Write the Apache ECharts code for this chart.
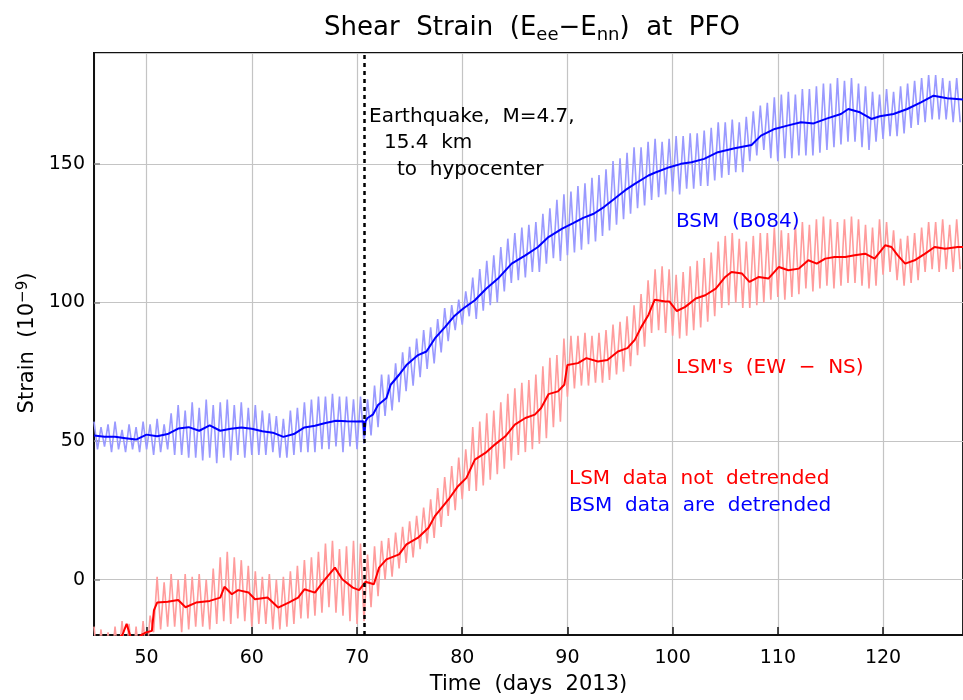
<!DOCTYPE html>
<html>
<head>
<meta charset="utf-8">
<script src="https://cdn.jsdelivr.net/npm/echarts@6/dist/echarts.min.js"></script>
<style>
  html, body { margin: 0; padding: 0; background: #fff; }
  #chart { width: 963px; height: 700px; }
</style>
</head>
<body>
<div id="chart"></div>
<script>
// smoothed curves (day, strain)
const bsmDays = [45, 46, 47, 48, 49, 50, 51, 52, 53, 54, 55, 56, 57, 58, 59, 60, 61, 62, 63, 64, 65, 66, 67, 68, 69, 70,
  70.6, 70.7, 70.8, 71, 71.5, 72, 72.8, 73.2, 74, 74.7, 75.8, 76.6, 77.4, 78.4, 79.2, 80.1, 81.2, 82.3, 83.4, 84.7,
  86, 87.2, 88.2, 89.5, 90.5, 91.5, 92.5, 93.5, 94.5, 95.5, 96.4, 97.7, 98.3, 99.7, 100.8, 101.8, 103, 104.3, 105.9,
  107.5, 108.4, 109.7, 110.9, 112.2, 113.4, 114.7, 116, 116.7, 117.8, 118.9, 119.7, 121, 122.3, 123.6, 124.8, 126.1, 127, 127.6];
const bsmTrend = [52, 51.5, 51.5, 51, 50.5, 52.3, 51.7, 52.5, 54.5, 55, 53.7, 55.6, 53.7, 54.4, 54.9, 54.4, 53.5, 53, 51.5, 52.5, 54.9, 55.5, 56.5, 57.3, 57.1, 57,
  57.1, 52, 57, 58.3, 59.5, 63, 65.5, 70.3, 73.9, 77.4, 81, 82.3, 87, 91.3, 94.9, 97.8, 100.8, 105, 108.6, 114,
  117, 120, 123.6, 126.6, 128.5, 130.5, 132, 134.5, 137.5, 140.5, 142.8, 145.8, 146.8, 148.8, 150, 150.6, 151.8, 154.2, 155.6,
  156.8, 160.2, 162.6, 163.8, 165, 164.6, 166.4, 168, 169.8, 168.6, 166.2, 167.2, 168, 169.8, 172.2, 174.6, 173.7, 173.4, 173.2];

const lsmDays = [45, 46, 47, 47.7, 48.1, 48.5, 49, 49.5, 50, 50.5, 50.7, 51, 52, 53, 53.7, 54.7, 56, 57, 57.4, 58.1, 58.7,
  59.7, 60.3, 61.5, 62.5, 63.5, 64.4, 65, 66, 66.9, 67.9, 68.6, 69.6, 70.2, 70.8, 71.6, 72.1, 72.8, 74, 74.7, 75.8,
  76.8, 77.4, 78.7, 79.6, 80.4, 81.2, 82.2, 83.1, 84.1, 85, 86, 86.9, 87.5, 88.2, 89.1, 89.7, 90, 91, 91.8, 92.9,
  93.8, 94.8, 95.7, 96.4, 97, 97.7, 98.3, 99.3, 99.7, 100.4, 101.2, 102.2, 103.1, 104.1, 105, 105.6, 106.6, 107.3,
  108.2, 109.1, 110.1, 111, 112, 112.9, 113.7, 114.5, 115.4, 116.4, 117.3, 118.3, 119.2, 120.2, 120.8, 121.4, 122.1,
  123, 124, 124.9, 125.9, 127.1, 127.6];
const lsmTrend = [-24, -23, -22, -20, -16, -21, -22, -20, -19, -18.5, -11, -8.3, -8, -7.4, -10, -8.3, -7.7, -6.5, -2.6, -5.3, -3.8,
  -4.7, -7.1, -6.5, -10.1, -8.3, -6.5, -3.5, -4.7, -0.2, 4.3, 0.1, -2.9, -3.8, -0.8, -1.7, 4.3, 7.3, 9.1, 12.7, 15.1,
  18.7, 22.9, 28.9, 33.7, 36.7, 43.3, 45.7, 48.7, 51.7, 55.9, 58.3, 59.5, 61.9, 66.9, 67.9, 70.3, 77.4, 78.1, 79.9, 78.7,
  79.2, 82.3, 83.5, 86.5, 91, 95.5, 101, 100.3, 100.3, 96.9, 98.4, 101.4, 102.6, 105, 109.2, 111, 110.4, 107.4,
  109.2, 108.6, 112.8, 111.6, 112.2, 115.2, 114, 115.8, 116.4, 116.4, 117, 117.6, 115.8, 120.6, 120, 117, 114,
  115.2, 117.6, 120, 119.4, 120, 120];

// raw (tidal) records, one value every third of a day from day 45
const tideStart = 45;
const tideStep = 1 / 3;
const bsmRaw = [
  57, 47, 55, 48, 56, 46,
  57, 47, 54, 46, 56, 47,
  55, 46, 57, 47, 56, 45,
  58, 46, 56, 47, 60, 45,
  63, 45, 61, 44, 64, 44,
  62, 43, 65, 44, 63, 42,
  64, 44, 65, 43, 63, 45,
  64, 44, 62, 45, 63, 45,
  61, 45, 60, 46, 59, 44,
  58, 44, 61, 45, 62, 46,
  64, 46, 65, 46, 66, 47,
  66, 47, 67, 48, 66, 46,
  66, 48, 65, 47, 66, 49,
  65, 52, 70, 55, 74, 59,
  74, 61, 78, 64, 82, 68,
  84, 70, 87, 73, 90, 76,
  91, 78, 94, 82, 98, 86,
  99, 90, 101, 92, 104, 95,
  109, 94, 112, 97, 115, 99,
  117, 100, 120, 104, 123, 107,
  125, 108, 127, 109, 128, 111,
  129, 111, 132, 114, 134, 116,
  137, 115, 139, 117, 140, 118,
  142, 119, 143, 121, 145, 122,
  146, 124, 148, 126, 151, 128,
  152, 130, 154, 132, 156, 134,
  156, 135, 158, 137, 159, 138,
  158, 139, 159, 140, 160, 139,
  160, 141, 161, 141, 161, 142,
  162, 142, 163, 144, 165, 145,
  165, 146, 166, 147, 165, 147,
  167, 151, 169, 153, 171, 155,
  172, 152, 174, 151, 175, 152,
  176, 152, 175, 153, 177, 153,
  177, 153, 178, 154, 179, 155,
  179, 156, 181, 157, 180, 158,
  181, 158, 179, 156, 178, 155,
  176, 158, 175, 159, 177, 160,
  176, 160, 178, 161, 179, 163,
  180, 164, 181, 165, 182, 166,
  182, 166, 181, 166, 180, 165,
  181, 165
];
const lsmRaw = [
  -17, -30, -18, -31, -19, -30,
  -17, -29, -15, -30, -16, -31,
  -17, -30, -15, -29, -13, -19,
  1, -18, -1, -17, 2, -17,
  0, -19, 2, -18, 1, -17,
  2, -17, 0, -18, 4, -16,
  8, -15, 10, -16, 8, -14,
  7, -15, 5, -17, 3, -16,
  1, -16, 2, -18, 0, -18,
  1, -17, 3, -16, 5, -14,
  7, -14, 8, -13, 10, -12,
  13, -10, 14, -12, 11, -13,
  12, -15, 14, -16, 13, -15,
  9, -10, 12, -6, 14, 0,
  15, 1, 17, 4, 19, 6,
  21, 8, 23, 11, 26, 13,
  29, 15, 33, 19, 37, 23,
  41, 25, 44, 29, 47, 32,
  55, 32, 57, 34, 60, 36,
  61, 38, 64, 40, 67, 43,
  69, 45, 71, 46, 72, 47,
  74, 49, 77, 51, 80, 55,
  81, 57, 87, 66, 88, 69,
  88, 70, 89, 70, 88, 71,
  89, 71, 90, 72, 92, 74,
  93, 75, 95, 77, 99, 81,
  103, 84, 108, 89, 112, 90,
  113, 89, 112, 88, 110, 87,
  111, 88, 113, 90, 115, 91,
  116, 93, 118, 95, 122, 98,
  124, 99, 125, 100, 123, 98,
  122, 98, 124, 99, 125, 100,
  125, 101, 127, 102, 126, 101,
  125, 102, 128, 103, 129, 105,
  128, 104, 130, 105, 131, 106,
  130, 105, 129, 106, 130, 107,
  131, 107, 130, 106, 128, 105,
  127, 106, 130, 110, 129, 111,
  126, 108, 123, 106, 124, 107,
  125, 108, 127, 111, 129, 112,
  129, 111, 130, 112, 128, 111,
  130, 112
];

const quakeDay = 70.7;

const FONT = "DejaVu Sans";

function pairs(days, vals) {
  return days.map((d, i) => [d, vals[i]]);
}
function tidePairs(vals) {
  return vals.map((v, i) => [tideStart + i * tideStep, v]);
}

const chart = echarts.init(document.getElementById("chart"), null, { renderer: "canvas" });

function label(text, x, y, color) {
  return {
    type: "text",
    x: x,
    y: y,
    style: {
      text: text,
      fill: color,
      font: "20px '" + FONT + "'",
      align: "left",
      verticalAlign: "middle"
    },
    z: 10
  };
}

chart.setOption({
  animation: false,
  backgroundColor: "#fff",
  grid: {
    left: 94,
    right: -3,
    top: 53,
    bottom: 62,
    show: true,
    borderColor: "#111",
    borderWidth: 2
  },
  xAxis: {
    type: "value",
    min: 45,
    max: 127.6,
    splitNumber: 8,
    name: "Time  (days  2013)",
    nameLocation: "middle",
    nameGap: 39,
    nameTextStyle: { fontFamily: FONT, fontSize: 21, color: "#000" },
    axisLine: { show: true, onZero: false, lineStyle: { color: "#111", width: 2 } },
    axisTick: { show: true, inside: true, length: 8, lineStyle: { color: "#111", width: 1.5 } },
    axisLabel: {
      showMinLabel: false,
      showMaxLabel: false,
      margin: 14,
      fontFamily: FONT,
      fontSize: 19,
      color: "#000"
    },
    splitLine: { show: true, lineStyle: { color: "#c4c4c4", width: 1.2 } }
  },
  yAxis: {
    type: "value",
    min: -20,
    max: 190,
    splitNumber: 4,
    axisLine: { show: true, onZero: false, lineStyle: { color: "#111", width: 2 } },
    axisTick: { show: true, inside: true, length: 6, lineStyle: { color: "#888", width: 1.5 } },
    axisLabel: {
      showMinLabel: false,
      showMaxLabel: false,
      margin: 9,
      fontFamily: FONT,
      fontSize: 19,
      color: "#000"
    },
    splitLine: { show: true, lineStyle: { color: "#c4c4c4", width: 1.2 } }
  },
  graphic: [
    {
      type: "text",
      x: 532,
      y: 28,
      style: {
        text: "Shear  Strain  (E{sub|ee}−E{sub|nn})  at  PFO",
        fill: "#000",
        font: "26px '" + FONT + "'",
        align: "center",
        verticalAlign: "middle",
        rich: {
          sub: { fontFamily: FONT, fontSize: 18, fill: "#000", padding: [14, 0, 0, 0] }
        }
      }
    },
    {
      type: "text",
      x: 28,
      y: 343,
      rotation: Math.PI / 2,
      style: {
        text: "Strain  (10{sup|−9})",
        fill: "#000",
        font: "21px '" + FONT + "'",
        align: "center",
        verticalAlign: "middle",
        rich: {
          sup: { fontFamily: FONT, fontSize: 15, fill: "#000", padding: [0, 0, 10, 0] }
        }
      }
    },
    label("Earthquake,  M=4.7,", 369, 117, "#000"),
    label("15.4  km", 384, 143, "#000"),
    label("to  hypocenter", 397, 170, "#000"),
    label("BSM  (B084)", 676, 222, "#0000ff"),
    label("LSM's  (EW  −  NS)", 676, 368, "#ff0000"),
    label("LSM  data  not  detrended", 569, 479, "#ff0000"),
    label("BSM  data  are  detrended", 569, 506, "#0000ff")
  ],
  series: [
    {
      name: "BSM raw",
      type: "line",
      data: tidePairs(bsmRaw),
      showSymbol: false,
      lineStyle: { color: "#9a9aff", width: 1.6 },
      z: 2
    },
    {
      name: "LSM raw",
      type: "line",
      data: tidePairs(lsmRaw),
      showSymbol: false,
      lineStyle: { color: "#ff9c9c", width: 1.6 },
      z: 2
    },
    {
      name: "BSM (B084)",
      type: "line",
      data: pairs(bsmDays, bsmTrend),
      showSymbol: false,
      lineStyle: { color: "#0000ff", width: 2 },
      z: 3
    },
    {
      name: "LSM's (EW - NS)",
      type: "line",
      data: pairs(lsmDays, lsmTrend),
      showSymbol: false,
      lineStyle: { color: "#ff0000", width: 2 },
      z: 3,
      markLine: {
        silent: true,
        symbol: "none",
        label: { show: false },
        lineStyle: { color: "#000", width: 2.5, type: [4, 4] },
        data: [{ xAxis: quakeDay }]
      }
    }
  ]
});
</script>
</body>
</html>
